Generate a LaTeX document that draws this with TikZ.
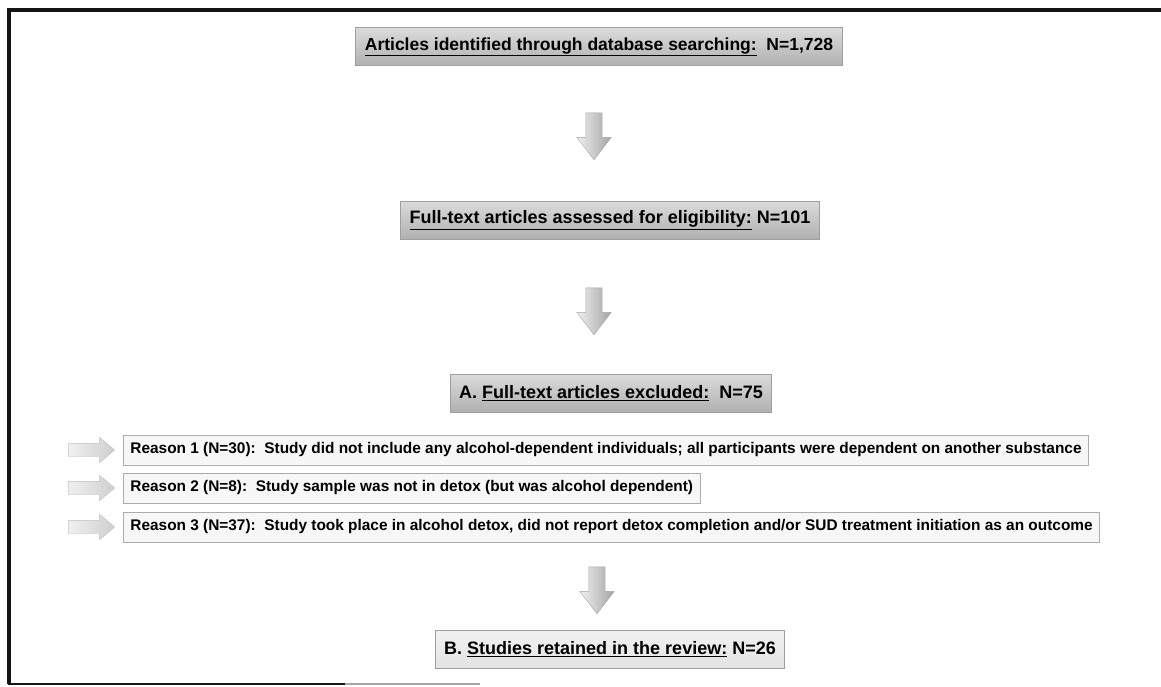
\documentclass[tikz,border=0pt]{standalone}
\usepackage{fontspec}
\setmainfont{Liberation Sans}
\usetikzlibrary{positioning,shapes.arrows}
\definecolor{frameBlack}{HTML}{141414}

\tikzset{
    headbox/.style={draw=gray!75, line width=1pt, top color=gray!28, bottom color=gray!62,
        font=\fontsize{18}{20}\selectfont\bfseries, inner xsep=9pt, inner ysep=0pt, minimum height=38pt},
    lightbox/.style={headbox, top color=gray!10, bottom color=gray!22},
    reasonbox/.style={draw=gray!65, line width=0.9pt, fill=gray!6,
        font=\fontsize{15.4}{17}\selectfont\bfseries, inner xsep=7pt, inner ysep=0pt, minimum height=30pt, anchor=west},
    downarrow/.style={single arrow, rotate=-90, draw=gray!70, left color=gray!12, right color=gray!72,
        inner xsep=0pt, inner ysep=8pt, minimum height=47pt, minimum width=34pt,
        single arrow head extend=9pt, single arrow tip angle=75},
    sidearrow/.style={single arrow, draw=gray!50, left color=gray!12, right color=gray!38,
        inner xsep=0pt, inner ysep=6.5pt, minimum height=46pt, minimum width=25pt,
        single arrow head extend=6pt, single arrow tip angle=80}
}

\begin{document}
\begin{tikzpicture}[x=1pt, y=-1pt]
    \useasboundingbox (0,0) rectangle (1161,687);
    \draw[frameBlack, line width=3.5pt] (9,684) -- (9,10) -- (1161,10);
    \draw[frameBlack, line width=2pt] (8,684) -- (345,684);
    \draw[gray!70, line width=1.2pt] (345,684) -- (480,684);

    \node[headbox, font=\fontsize{17.5}{20}\selectfont\bfseries] (1) at (599,47) {\underline{Articles identified through database searching:}\ \ N=1,728};
    \node[downarrow] (d1) at (594,131) {};
    \node[headbox] (2) at (610,220) {\underline{Full-text articles assessed for eligibility:} N=101};
    \node[downarrow] (d2) at (594,306) {};
    \node[headbox] (3) at (611,393) {A. \underline{Full-text articles excluded:}\ \ N=75};

    \node[reasonbox] (r1) at (123,450) {Reason 1 (N=30):\ \ Study did not include any alcohol-dependent individuals; all participants were dependent on another substance};
    \node[reasonbox] (r2) at (123,488) {Reason 2 (N=8):\ \ Study sample was not in detox (but was alcohol dependent)};
    \node[reasonbox] (r3) at (123,527) {Reason 3 (N=37):\ \ Study took place in alcohol detox, did not report detox completion and/or SUD treatment initiation as an outcome};
    \node[sidearrow] (s1) [left=8pt of r1] {};
    \node[sidearrow] (s2) [left=8pt of r2] {};
    \node[sidearrow] (s3) [left=8pt of r3] {};

    \node[downarrow] (d3) at (597,585) {};
    \node[lightbox] (4) at (610,649) {B. \underline{Studies retained in the review:} N=26};
\end{tikzpicture}
\end{document}
